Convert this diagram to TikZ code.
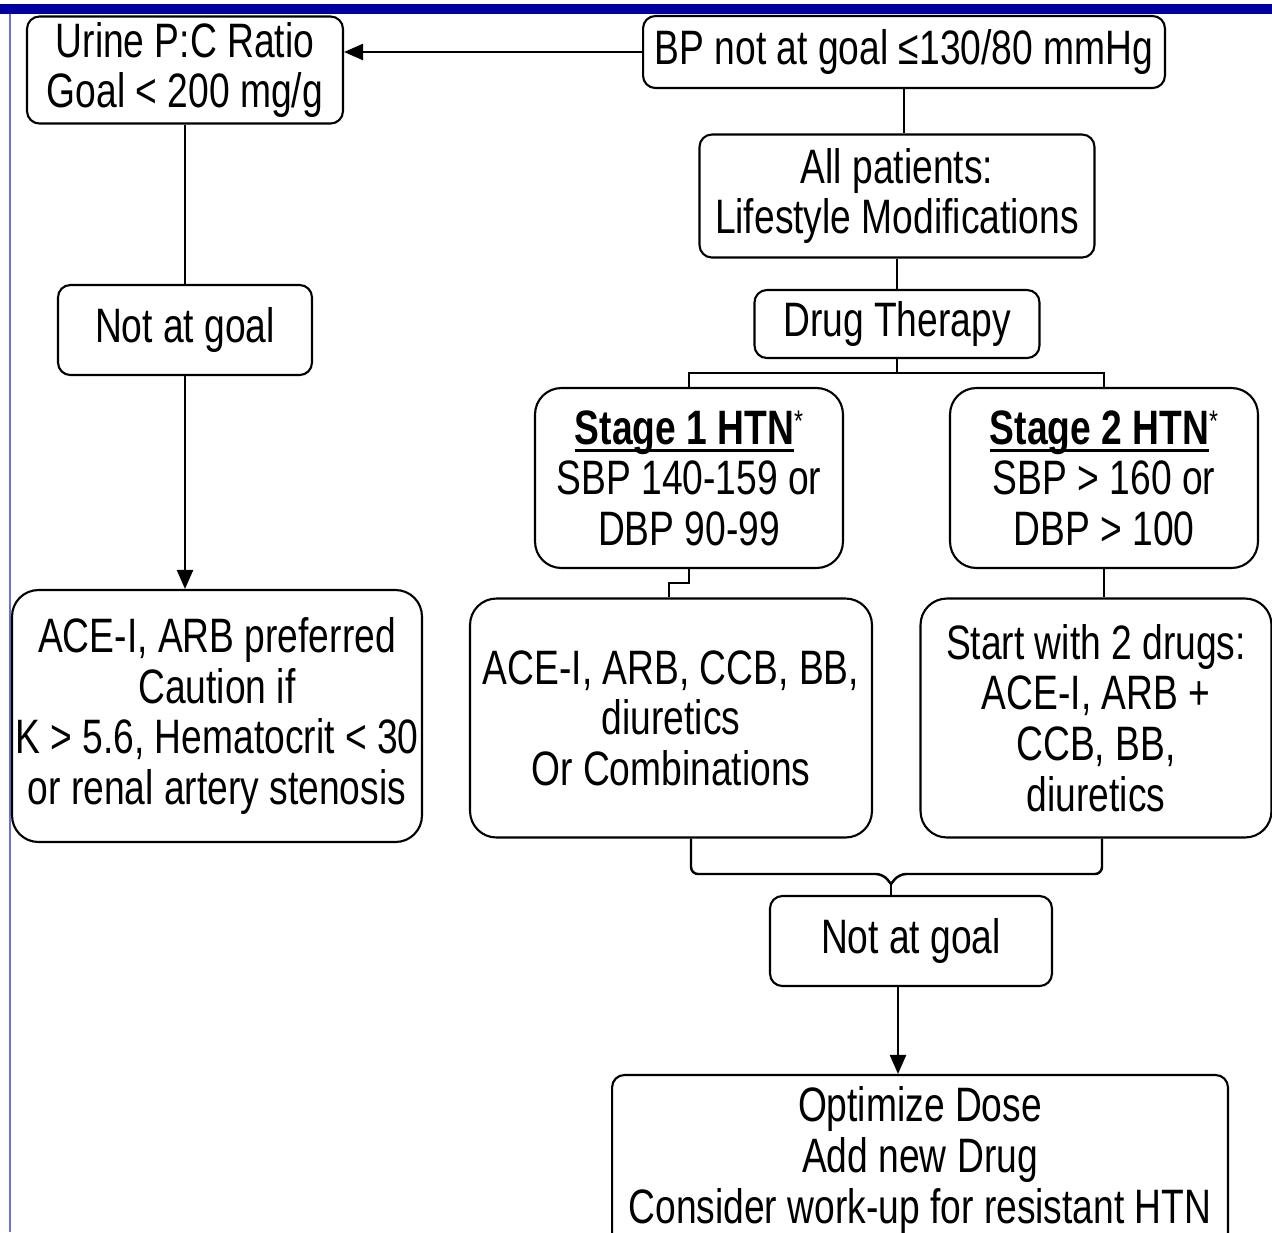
\documentclass[tikz,border=0pt]{standalone}
\usepackage{fontspec}
\setmainfont[FakeStretch=0.77]{Liberation Sans}
\usepackage{tikz}
\usetikzlibrary{arrows.meta}

\definecolor{slidebar}{RGB}{0,0,160}
\definecolor{slideedge}{RGB}{110,110,225}

\tikzset{
  box/.style={draw, line width=1.2pt, rounded corners=7pt, align=center,
    inner sep=0pt, font=\fontsize{27.5pt}{28.8pt}\selectfont},
  roundbox/.style={box, rounded corners=15pt},
  link/.style={line width=1.4pt},
  arr/.style={link, -{Triangle[length=0.38cm,width=0.32cm]}},
}

\newsavebox{\headbox}
\newcommand{\stagehead}[1]{\sbox{\headbox}{\textbf{#1}}%
  \rlap{\rule[-4.5pt]{\wd\headbox}{1.8pt}}\usebox{\headbox}%
  {\fontsize{17pt}{17pt}\selectfont\raisebox{7pt}{*}}}

\begin{document}
\begin{tikzpicture}[x=0.02cm, y=-0.02cm]
      \clip (0,0) rectangle (1272,1232);
      % slide frame
      \fill[slidebar] (0,4) rectangle (1272,14);
      \draw[slideedge, line width=0.6pt] (10,14) -- (10,1232);

      % Nodes
      % right column
      \node[box, minimum width=10.44cm, minimum height=1.44cm] (BP) at (904,52)
        {BP not at goal ≤130/80 mmHg};
      \node[box, minimum width=7.9cm, minimum height=2.46cm] (ALL) at (897,196)
        {All patients:\\Lifestyle Modifications};
      \node[box, minimum width=5.7cm, minimum height=1.36cm] (DRUG) at (897,324)
        {Drug Therapy};
      \node[roundbox, minimum width=6.16cm, minimum height=3.6cm] (S1) at (689,478)
        {\stagehead{Stage 1 HTN}\\SBP 140-159 or\\DBP 90-99};
      \node[roundbox, minimum width=6.16cm, minimum height=3.6cm] (S2) at (1104,478)
        {\stagehead{Stage 2 HTN}\\SBP > 160 or\\DBP > 100};
      \node[roundbox, minimum width=8.04cm, minimum height=4.78cm] (T1) at (671,718)
        {ACE-I, ARB, CCB, BB,\\diuretics\\Or Combinations};
      \node[roundbox, minimum width=7.02cm, minimum height=4.78cm] (T2) at (1096,718)
        {Start with 2 drugs:\\ACE-I, ARB +\\CCB, BB,\\diuretics};
      \node[box, minimum width=5.64cm, minimum height=1.8cm] (NG2) at (911,941)
        {Not at goal};
      \node[box, minimum width=12.32cm, minimum height=3.4cm] (OPT) at (920,1160)
        {Optimize Dose\\Add new Drug\\Consider work-up for resistant HTN};
      % left column
      \node[box, minimum width=6.32cm, minimum height=2.14cm] (URINE) at (185,70)
        {Urine P:C Ratio\\Goal < 200 mg/g};
      \node[box, minimum width=5.08cm, minimum height=1.8cm] (NG1) at (185,330)
        {Not at goal};
      \node[roundbox, minimum width=8.2cm, minimum height=5.04cm] (ACE) at (217,716)
        {ACE-I, ARB preferred\\Caution if\\K > 5.6, Hematocrit < 30\\or renal artery stenosis};

      % Edges
      \draw[arr] (BP.west) -- (BP.west -| URINE.east);
      \draw[link] (BP.south) -- (BP.south |- ALL.north);
      \draw[link] (ALL) -- (DRUG);
      \draw[link] (DRUG.south) -- ++(0,14) coordinate (split)
        -| (S1.north);
      \draw[link] (split) -| (S2.north);
      \draw[link] (S1.south) -- ++(0,14) -| (669,0 |- T1.north);
      \draw[link] (S2.south) -- (S2.south |- T2.north);
      \coordinate (join) at (891,884);
      \draw[link, rounded corners=4pt] (691,0 |- T1.south) |- (883,874) -- (join);
      \draw[link, rounded corners=4pt] (1102,0 |- T2.south) |- (899,874) -- (join);
      \draw[link] (join) -- (join |- NG2.north);
      \draw[arr] (898,0 |- NG2.south) -- (898,0 |- OPT.north);
      \draw[link] (URINE) -- (NG1);
      \draw[arr] (NG1.south) -- (NG1.south |- ACE.north);

\end{tikzpicture}
\end{document}
